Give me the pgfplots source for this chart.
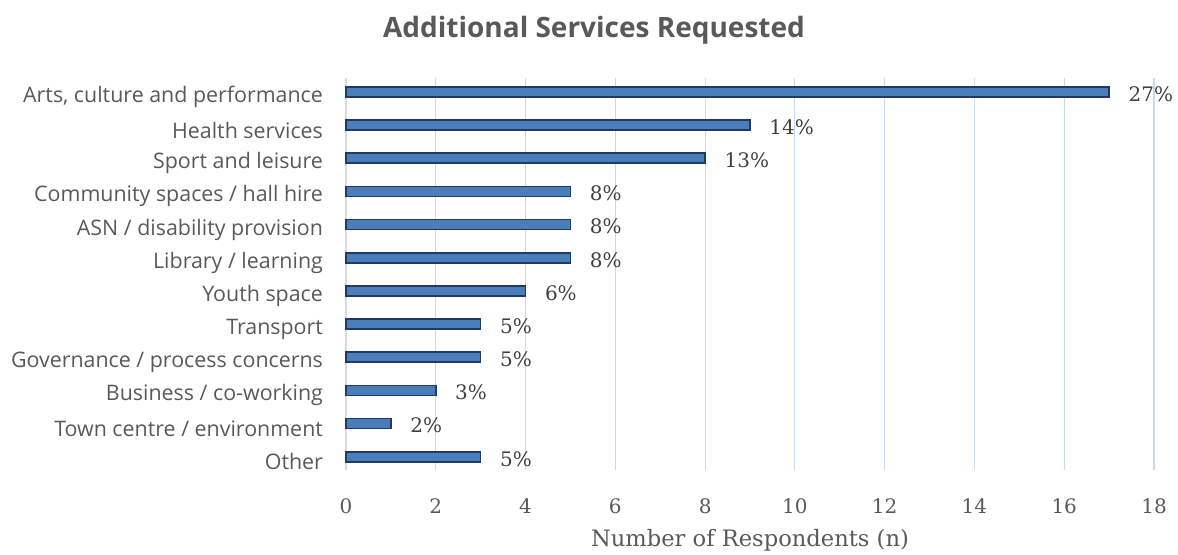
\documentclass[border=0pt]{standalone}
\usepackage{fontspec}
\setmainfont{DejaVu Serif}
\newfontfamily\catfont{Open Sans}
\usepackage{pgfplots}
\pgfplotsset{compat=1.18}
\definecolor{barfill}{HTML}{4A7EBB}
\definecolor{barline}{HTML}{1F3A66}
\definecolor{gridc}{HTML}{C9D8EC}
\definecolor{txt}{HTML}{595959}
\begin{document}
\begin{tikzpicture}
\path[use as bounding box] (0,0) rectangle (589pt,277pt);
\node[anchor=base, font=\catfont\bfseries\fontsize{14}{16}\selectfont, text=txt] at (297pt,258.5pt) {Additional Services Requested};
\begin{axis}[
    at={(173pt,42pt)}, anchor=south west,
    scale only axis, width=404pt, height=196pt,
    xbar, bar width=5pt,
    xmin=0, xmax=18, xtick={0,2,...,18},
    ymin=-0.42, ymax=11.4, y dir=reverse,
    ytick={0,...,11},
    yticklabels={{Arts, culture and performance}, {Health services}, {Sport and leisure},
      {Community spaces / hall hire}, {ASN / disability provision}, {Library / learning},
      {Youth space}, {Transport}, {Governance / process concerns}, {Business / co-working},
      {Town centre / environment}, {Other}},
    yticklabel style={font=\catfont\fontsize{10.7}{12}\selectfont, text=txt, xshift=-8pt, yshift=-2.5pt},
    xticklabel style={font=\fontsize{10}{12}\selectfont, text=txt, yshift=-11pt},
    /pgf/number format/assume math mode=true,
    xmajorgrids, grid style={gridc, line width=0.6pt},
    axis line style={draw=none},
    major tick length=0pt,
    xlabel={Number of Respondents (n)},
    xlabel style={font=\fontsize{11.3}{13}\selectfont, text=txt,
      at={(axis description cs:0.5,0)}, anchor=center, yshift=-35pt},
    clip=false,
]
\draw[black!15, line width=0.8pt] (axis cs:0,-0.42) -- (axis cs:0,11.4);
\addplot[fill=barfill, draw=barline, line width=0.8pt,
    nodes near coords, point meta=explicit symbolic,
    nodes near coords style={font=\fontsize{10}{12}\selectfont, text=black!75, anchor=west, xshift=6pt, yshift=-1pt}]
    coordinates {
    (17,0) [27\%]
    (9,1) [14\%]
    (8,2) [13\%]
    (5,3) [8\%]
    (5,4) [8\%]
    (5,5) [8\%]
    (4,6) [6\%]
    (3,7) [5\%]
    (3,8) [5\%]
    (2,9) [3\%]
    (1,10) [2\%]
    (3,11) [5\%]
};
\end{axis}
\end{tikzpicture}
\end{document}
